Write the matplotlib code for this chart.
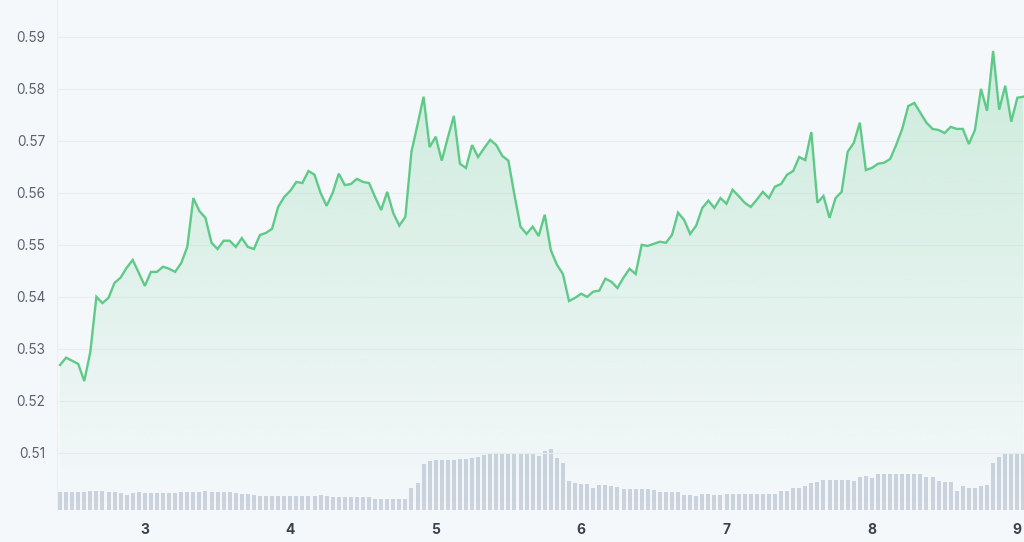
import numpy as np
import matplotlib
matplotlib.use("Agg")
import matplotlib.pyplot as plt
from matplotlib.patches import Polygon
from matplotlib.colors import to_rgb

# hourly price, first point is 14 h before day 3
price = [0.5269, 0.5283, 0.5277, 0.5271, 0.5238, 0.5294, 0.5400, 0.5388, 0.5398, 0.5427,
         0.5437, 0.5456, 0.5471, 0.5446, 0.5421, 0.5448, 0.5448, 0.5458, 0.5454, 0.5448,
         0.5465, 0.5496, 0.5590, 0.5565, 0.5552, 0.5504, 0.5492, 0.5508, 0.5508, 0.5496,
         0.5513, 0.5496, 0.5492, 0.5519, 0.5523, 0.5531, 0.5573, 0.5592, 0.5604, 0.5621,
         0.5619, 0.5642, 0.5635, 0.5600, 0.5575, 0.5600, 0.5637, 0.5615, 0.5617, 0.5627,
         0.5621, 0.5619, 0.5592, 0.5567, 0.5602, 0.5561, 0.5537, 0.5554, 0.5679, 0.5731,
         0.5785, 0.5688, 0.5708, 0.5662, 0.5706, 0.5748, 0.5656, 0.5648, 0.5692, 0.5669,
         0.5686, 0.5702, 0.5692, 0.5671, 0.5662, 0.5596, 0.5535, 0.5521, 0.5535, 0.5517,
         0.5558, 0.5490, 0.5462, 0.5444, 0.5392, 0.5398, 0.5406, 0.5400, 0.5410, 0.5412,
         0.5435, 0.5429, 0.5417, 0.5437, 0.5454, 0.5444, 0.5500, 0.5498, 0.5502, 0.5506,
         0.5504, 0.5519, 0.5562, 0.5548, 0.5521, 0.5537, 0.5571, 0.5585, 0.5571, 0.5590,
         0.5579, 0.5606, 0.5594, 0.5581, 0.5573, 0.5587, 0.5602, 0.5590, 0.5612, 0.5617,
         0.5635, 0.5642, 0.5669, 0.5663, 0.5717, 0.5581, 0.5594, 0.5552, 0.5590, 0.5602,
         0.5679, 0.5696, 0.5735, 0.5644, 0.5648, 0.5656, 0.5658, 0.5665, 0.5692, 0.5723,
         0.5767, 0.5773, 0.5754, 0.5735, 0.5723, 0.5721, 0.5715, 0.5727, 0.5723, 0.5723,
         0.5694, 0.5721, 0.5800, 0.5758, 0.5873, 0.5760, 0.5806, 0.5737, 0.5783, 0.5785]

# hourly volume (relative units)
volume = [18, 18, 18, 18, 18.5, 19.3, 19.5, 19, 18.5, 18,
          17.5, 15.5, 17.5, 18, 17.5, 17.5, 17.5, 17.5, 17.5, 17.5,
          18, 18.5, 18.5, 18.5, 19, 18, 18.5, 18.5, 18.5, 17,
          16.5, 16.5, 15, 14.5, 14.5, 14.5, 14.5, 14, 14, 14.5,
          14.5, 14.5, 14, 14.7, 14.5, 13.3, 13.3, 13.3, 13.3, 13.3,
          13.3, 13.3, 11.3, 11.3, 11.3, 11.3, 11.3, 11.3, 22.3, 26.7,
          45.7, 49, 50, 50, 50.5, 50.5, 51, 51, 52.5, 53,
          55.5, 55.7, 55.7, 55.7, 55.7, 56.7, 56.7, 56.7, 56.7, 54,
          59, 60.7, 51.7, 46.7, 29, 26.7, 26.5, 26.5, 21.7, 25,
          25, 24.5, 23, 21, 21, 20.7, 20.7, 20.7, 20.5, 18.5,
          18.3, 18, 18.3, 15, 15, 14, 16.3, 16.3, 15.5, 14.7,
          16, 16, 16, 16, 16, 16, 16, 16, 16, 19.3,
          19.3, 22.3, 22.3, 24.3, 26.7, 28.3, 30, 30, 30, 30,
          30, 29, 32.7, 34.3, 32.3, 36, 36, 36, 36, 36,
          36, 36, 36, 32.7, 32.7, 29, 27.7, 27.7, 19.3, 23.7,
          22.3, 22.3, 24.3, 25, 46.7, 52.7, 55.7, 55.7, 55.7, 55.7]

day_ticks = [3, 4, 5, 6, 7, 8, 9]
price_ticks = [0.51, 0.52, 0.53, 0.54, 0.55, 0.56, 0.57, 0.58, 0.59]

bg = "#f5f8fb"
green = "#5fca88"

hours = np.arange(len(price))
days = 3 + (hours - 14) / 24.0
ymin, ymax = 0.4990, 0.5971
xmin, xmax = 3 + (-0.5 - 14) / 24.0, 3 + (159.1 - 14) / 24.0

fig = plt.figure(figsize=(10.24, 5.42), dpi=100, facecolor=bg)
ax = fig.add_axes([57 / 1024, 32 / 542, 1 - 57 / 1024, 510 / 542])
vax = ax.twinx()
ax.set_zorder(vax.get_zorder() + 1)
ax.patch.set_visible(False)
vax.set_facecolor(bg)

# volume bars
vax.bar(days, volume, width=0.66 / 24, color="#cbd3df", linewidth=0)
vax.set_ylim(0, 510)
vax.set_yticks([])
for s in vax.spines.values():
    s.set_visible(False)

# gradient fill under the line
grad = np.zeros((256, 1, 4))
grad[:, :, :3] = to_rgb(green)
grad[:, 0, 3] = np.linspace(0.0, 0.27, 256)
im = ax.imshow(grad, extent=[days[0], days[-1], ymin, max(price)], origin="lower",
               aspect="auto", zorder=1, interpolation="bicubic")
verts = list(zip(days, price)) + [(days[-1], ymin), (days[0], ymin)]
poly = Polygon(verts, closed=True, facecolor="none", edgecolor="none")
ax.add_patch(poly)
im.set_clip_path(poly)

ax.plot(days, price, color=green, lw=1.7, zorder=3, solid_joinstyle="miter")

ax.set_xlim(xmin, xmax)
ax.set_ylim(ymin, ymax)
ax.set_yticks(price_ticks)
ax.set_yticklabels(["%.2f" % v for v in price_ticks])
ax.set_xticks(day_ticks)
ax.set_xticklabels([str(d) for d in day_ticks])
ax.grid(axis="y", color="#eaeef2", lw=0.8)
ax.set_axisbelow(True)
ax.tick_params(axis="y", length=0, pad=8.5, labelsize=9.8, labelcolor="#5b616d")
ax.tick_params(axis="x", length=0, pad=9, labelsize=10, labelcolor="#3b414d")
for lbl in ax.get_xticklabels():
    lbl.set_fontweight("bold")
for lbl in ax.get_xticklabels() + ax.get_yticklabels():
    lbl.set_fontfamily("Inter")
for k in ["top", "right", "bottom"]:
    ax.spines[k].set_visible(False)
ax.spines["left"].set_color("#eceff3")
ax.spines["left"].set_linewidth(0.8)

fig.savefig("out.png", dpi=100, facecolor=bg)
